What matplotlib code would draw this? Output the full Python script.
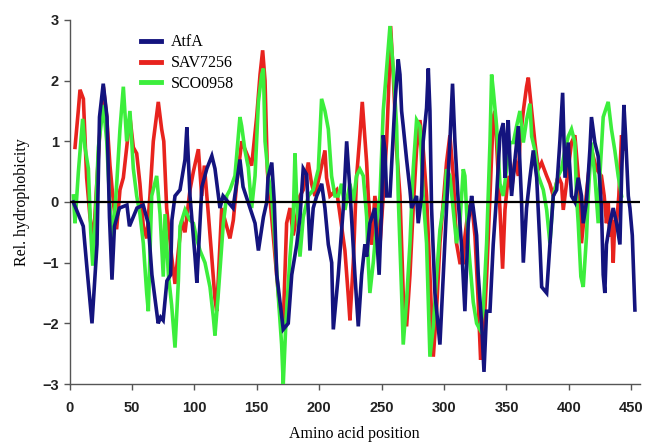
import matplotlib
matplotlib.use("Agg")
import matplotlib.pyplot as plt

# ---------------- data ----------------
atfa_x = [3, 7, 11, 14, 18, 22, 24, 27, 30, 32, 34, 36, 40, 46, 48, 54, 59, 63, 66, 71,
          73, 75, 78, 81, 82, 84.5, 88.5, 92.5, 94, 96.5, 100.5, 102, 106, 110, 114, 116.5,
          120.5, 123, 127, 131, 136.5, 139, 148.6, 151.3, 155.3, 158,
          159, 162, 164, 166, 171.2, 175.2, 178, 182, 184.6, 187.2, 190, 192.6, 195.2, 198,
          202, 204.6, 207.3, 210, 211.3, 215.3, 219.3, 222, 224.6, 228.6, 231.3, 234, 236.6,
          238, 240.6, 244.6, 248, 250, 251.3, 252.7, 254, 256.7, 260.7, 263.3, 264.7, 266,
          267.3, 270, 272.7, 274, 278, 279.3, 282, 283.3, 286, 287.4, 288.7, 290, 292.7,
          296.7, 299.4, 302, 304.7, 306.8, 308.7, 311.4, 314, 316.7, 319.4, 322.1, 323.4,
          326.1, 327.4, 330.1, 332, 334.1, 336.8, 339.4, 342.1, 344.8, 347.4, 348.8, 350.1,
          351.4, 354.1, 356.8, 359.5, 362.1, 363.5, 366.1, 368.8, 371.5, 374.2, 376.8, 378.2,
          382.2, 384.8, 387.5, 390.2, 392.8, 395, 396.9, 399.5, 402.1, 404.8, 407.5, 410.1,
          411.5, 414.1, 416.8, 418.1, 420.8, 423.5, 426.1, 427.5, 428.8, 430.1, 432.8, 435.5,
          438.2, 440.9, 442.2, 444.1, 445.4, 447.6, 448.9, 450.8, 452.9]
atfa_y = [0.0, -0.2, -0.4, -1.1, -2.0, -0.7, 1.4, 1.95, 1.4, -0.25, -1.28, -0.4, -0.1, -0.05, -0.4, -0.1, -0.05, -0.35, -1.2, -2.0,
          -1.9, -1.95, -1.3, -1.2, -0.3, 0.1, 0.2, 0.7, 1.23, 0.1, -0.9, -1.33, 0.25, 0.55, 0.76, 0.55,
          -0.1, 0.1, 0.0, -0.1, 0.7, 0.25, -0.35, -0.8, -0.25, 0.0,
          0.4, 0.65, 0.0, -1.2, -2.1, -2.0, -1.2, -0.7, -0.25, 0.55, 0.45, -0.8, -0.1, 0.1,
          0.3, -0.1, -0.7, -1.0, -2.1, -1.2, -0.1, 1.0, 0.2, -1.2, -2.05, -1.2, -0.7,
          -0.9, -0.35, -0.1, -1.2, -0.1, 1.1, 0.85, 0.1, 0.1, 1.65, 2.35, 2.1, 1.5,
          1.25, 0.7, 0.2, -0.1, 0.1, -0.35, 0.1, 1.0, 1.55, 2.2, 1.5, -0.1, -1.5,
          -2.35, -1.2, -0.1, 1.0, 1.95, 1.0, 0.0, -0.7, -1.8, -0.35, 0.1, -0.1,
          -0.55, -1.2, -2.0, -2.8, -1.8, -1.8, -0.7, 0.1, 1.1, 1.3, 0.4, 1.0,
          1.35, 0.1, 0.7, 1.25, 0.0, -1.0, -0.1, 0.4, 0.85, 0.4, -0.7, -1.4,
          -1.5, -0.7, 0.1, 0.2, 1.0, 1.8, 0.4, 0.98, 0.1, 0.0, 0.4, 0.1,
          -0.35, 0.0, 0.85, 1.4, 0.98, 0.75, -0.1, -1.2, -1.5, -0.7, -0.35, -0.1,
          -0.35, -0.7, 0.4, 1.6, 1.1, 0.1, -0.1, -0.55, -1.78]

sav_x = [4.4, 7, 8.4, 11.1, 13.7, 16.4, 19.1, 21.8, 24.4, 27.1, 29.8, 32.4, 35.1, 37.7, 40.4,
         43.1, 45.8, 48.4, 51.1, 53.8, 56.4, 59.1, 61.8, 64.4, 67.1, 71.1, 73.8, 75.5, 77.8,
         81.8, 84.5, 87.2, 89.9, 92.5, 96.5, 99.2, 103.2, 105.9, 108, 111.2, 113.9, 116.5,
         117.9, 121.9, 124.5, 128.5, 131.2, 133.9, 137.9, 141.9, 145.9, 149.9, 152.6, 154.7,
         156.6, 158.5, 161.9, 165.9, 168.6, 171.2, 173.9, 176.6, 179.2, 181.9, 184.6, 187.2,
         191.3, 193.9, 196.6, 200.6, 204.6, 205.9, 208.6, 213.9, 217.9, 220.6, 223.3, 224.6,
         227.3, 229.9, 232.6, 234.5, 238, 239.3, 240.6, 242, 244.6, 247.3, 248.7, 251.3, 254,
         256.1, 257.2, 259.3, 262, 264.7, 267.3, 270, 272.7, 275.3, 278, 280.7, 283.3, 286,
         288.7, 291.4, 294, 296.7, 299.4, 302, 304.7, 307.4, 310, 312.7, 315.4, 316.7, 319.4,
         322.1, 324.8, 327.4, 329.3, 331.4, 334.1, 336.8, 339.4, 340.8, 342.1, 344.8, 346.9,
         348.8, 351.4, 354.1, 356.8, 359.5, 360.8, 363.5, 366.1, 367.5, 370.2, 372.8, 375.5,
         378.2, 382.2, 384.8, 387.5, 391.5, 394.1, 395.5, 399.5, 402.1, 404.8, 407.5, 410.1,
         412.8, 415.5, 418.1, 422.1, 426.1, 428.3, 430.1, 431.5, 432.8, 434.1, 435.5, 436.8,
         438.2, 440, 442.2, 443.5]
sav_y = [0.9, 1.5, 1.85, 1.7, 0.4, -0.25, -0.65, 0.3, 1.2, 1.9, 1.4, 0.6, 0.0, -0.45, 0.2,
         0.4, 0.9, 1.4, 0.9, 0.8, 0.3, -0.4, -0.6, 0.1, 1.0, 1.65, 1.2, 1.0, -0.1,
         -0.9, -1.35, -0.8, -0.3, -0.5, 0.2, 0.5, 0.87, 0.1, 0.6, -0.2, -0.9, -1.6,
         -1.8, -0.1, -0.3, -0.6, -0.3, 0.3, 1.0, 0.8, 0.6, 1.4, 2.1, 2.5,
         2.0, 0.5, -0.25, -1.2, -1.8, -2.0, -0.35, -0.1, -0.55, -0.25, 0.1, 0.2,
         0.65, 0.3, 0.1, 0.47, 0.85, 0.4, 0.1, 0.2, -0.4, -0.8, -1.55, -1.95,
         -1.0, 0.4, 1.1, 1.65, 0.65, 0.1, -0.25, -0.7, 0.1, -0.35, -0.7, 0.1, 1.0,
         2.1, 2.9, 2.1, 0.87, 0.1, -1.5, -2.05, -1.2, -0.1, 0.87, 1.35, 0.87, 0.1,
         -1.2, -2.55, -1.78, -0.68, 0.0, 0.65, 1.1, 0.43, -0.68, -1.0, -1.0, -0.57, -0.13,
         0.0, -0.57, -1.65, -2.6, -2.3, -1.23, 0.1, 1.4, 1.5, 0.98, -0.13, -1.1,
         -0.13, 0.43, 0.2, 0.7, 0.43, 0.98, 1.5, 1.9, 2.05, 1.5, 0.98, 0.54,
         0.65, 0.43, 0.3, 0.1, 0.43, 0.3, -0.13, 0.54, 0.98, 1.1, 0.43, -0.68,
         -0.13, 0.43, 0.87, 0.54, 0.43, 0.1, -0.35, 0.0, -0.57, -0.2, -1.0, -0.3,
         -0.35, 0.1, 1.1, 0.87]

sco_x = [3.1, 4.4, 7.1, 10.5, 12.4, 15.1, 17, 18.6, 20.4, 23.1, 27.1, 29.8, 31.9, 34.6, 37.8,
         40.4, 43.1, 45.8, 48.4, 51.1, 53.8, 56.4, 59.1, 61.8, 63.1, 65.8, 69.8, 72.5, 75.1,
         76.5, 79.2, 81.8, 84.5, 87.2, 88.5, 92.5, 96.5, 99.2, 101.8, 104.5, 108.5, 112.5,
         115.2, 116.5, 119.2, 123.2, 125.9, 128.5, 132.5, 136.5, 137.9, 140.5, 143.2, 145.9,
         148.6, 151.3, 153.9, 155.3, 156.6, 159.2, 161.9, 164.6, 167.2, 169.9, 171.2, 173.3,
         176.6, 179.2, 180.6, 181.9, 184.6, 187.2, 191.3, 195.2, 199.3, 201.9, 204.6, 207.3,
         209.9, 212.6, 215.3, 217.9, 220.6, 224.6, 227.3, 229.9, 232.6, 235.3, 238, 239.3,
         240.6, 243.3, 246, 248.7, 251.3, 254, 256.7, 259.3, 262, 263.3, 266, 267.3, 270,
         272.7, 275.3, 278, 280.7, 283.3, 286, 288.7, 291.4, 294, 296.7, 300.7, 302, 304.7,
         307.4, 310, 312.7, 315.4, 316.7, 318, 319.4, 320.7, 323.4, 326.1, 328.7, 331.4,
         334.1, 336.8, 338.1, 339.4, 342.1, 344.8, 347.4, 350.1, 352.8, 355.5, 358.1, 360.8,
         363.5, 366.1, 368.8, 370.2, 372.8, 375.5, 379.5, 382.2, 384.8, 387.5, 391.5, 394.1,
         396.8, 399.5, 402.1, 404.8, 406.1, 407.5, 409.6, 411.5, 414.1, 415.5, 418.1, 420.8,
         423.5, 424.8, 427.5, 431.5, 434.1, 436.8, 439.5, 442.2]
sco_y = [0.1, -0.35, 0.5, 1.37, 0.9, 0.55, -0.5, -1.05, -0.4, 0.9, 1.6, 1.0, 0.1, -0.65, 0.3,
         1.2, 1.9, 1.0, 1.5, 0.55, 0.1, -0.2, -0.68, -1.5, -1.8, 0.1, 0.43, -0.2, -1.23,
         -0.2, -1.2, -1.7, -2.4, -1.3, -0.4, -0.13, -0.3, -0.35, -0.6, -0.8, -1.0, -1.4,
         -1.9, -2.2, -1.5, -0.35, 0.1, 0.2, 0.43, 1.4, 1.25, 0.85, 0.57, -0.1,
         0.43, 1.65, 2.1, 2.2, 1.0, 0.43, 0.1, -0.68, -1.55, -2.35, -3.0, -2.0,
         -0.9, -0.25, 0.8, 0.1, -0.9, -0.25, 0.1, 0.2, 0.54, 1.7, 1.5, 1.2,
         0.43, 0.1, 0.1, 0.3, -0.13, 0.3, 0.0, 0.43, 0.54, 0.43, -0.24, -1.0,
         -1.5, -1.0, -0.35, 0.1, 1.5, 2.2, 2.9, 2.2, 1.25, 0.1, -1.5, -2.35, -1.62,
         -0.68, 0.54, 1.35, 1.25, 0.1, -0.68, -2.55, -2.05, -1.23, -0.46, 0.1, 0.54, 0.43,
         -0.13, -0.68, -0.35, 0.54, 0.43, -0.13, -0.68, -1.0, -1.65, -2.0, -2.1, -1.78,
         -0.68, 0.98, 2.1, 1.85, 1.25, 0.3, 0.1, 0.54, 0.98, 0.98, 1.25, 1.5,
         0.98, 1.35, 1.62, 1.08, 0.85, 0.43, 0.2, -0.13, -0.68, 0.1, 0.43, 0.54,
         0.85, 1.08, 1.2, 0.98, 0.1, -0.35, -1.23, -1.4, -0.57, 0.1, 0.98, 0.43,
         -0.35, 0.43, 1.4, 1.65, 1.2, 0.85, 0.43, 0.1]

series_names = ["AtfA", "SAV7256", "SCO0958"]
x_ticks = [0, 50, 100, 150, 200, 250, 300, 350, 400, 450]
y_ticks = [-3, -2, -1, 0, 1, 2, 3]

# ---------------- figure ----------------
fig = plt.figure(figsize=(6.45, 4.42), dpi=100)
ax = fig.add_axes([0.1078, 0.1312, 0.8845, 0.8236])

c_blue = "#14147e"
c_red = "#e8231e"
c_green = "#3cee3c"
lw = 2.6

l_red, = ax.plot(sav_x, sav_y, color=c_red, lw=lw, zorder=2, solid_joinstyle="miter")
l_green, = ax.plot(sco_x, sco_y, color=c_green, lw=lw, zorder=3, solid_joinstyle="miter")
l_blue, = ax.plot(atfa_x, atfa_y, color=c_blue, lw=lw, zorder=4, solid_joinstyle="miter")
ax.axhline(0, color="black", lw=1.6, zorder=5)

ax.set_xlim(0, 457)
ax.set_ylim(-3, 3)
ax.set_xticks(x_ticks)
ax.set_yticks(y_ticks)
for s in ["top", "right"]:
    ax.spines[s].set_visible(False)
for s in ["left", "bottom"]:
    ax.spines[s].set_color("#555555")
    ax.spines[s].set_linewidth(1.0)
ax.tick_params(direction="out", length=4, width=1, color="#555555")
ax.tick_params(axis="x", pad=8)
ax.tick_params(axis="y", pad=3.5)
for lab in ax.get_xticklabels() + ax.get_yticklabels():
    lab.set_fontfamily("Liberation Sans")
    lab.set_fontweight("bold")
    lab.set_fontsize(10.5)
    lab.set_color("#222222")

ax.set_xlabel("Amino acid position", family="Liberation Serif", fontsize=11.5, labelpad=8)
ax.set_ylabel("Rel. hydrophobicity", family="Liberation Serif", fontsize=11.5, labelpad=9)

leg = ax.legend([l_blue, l_red, l_green], series_names, loc="upper left",
                bbox_to_anchor=(0.1, 1.0), frameon=False,
                prop={"family": "Liberation Serif", "size": 11.5},
                handlelength=1.25, handletextpad=0.6, labelspacing=0.3)
for h in leg.get_lines():
    h.set_linewidth(3.5)

fig.savefig("out.png", dpi=100)
